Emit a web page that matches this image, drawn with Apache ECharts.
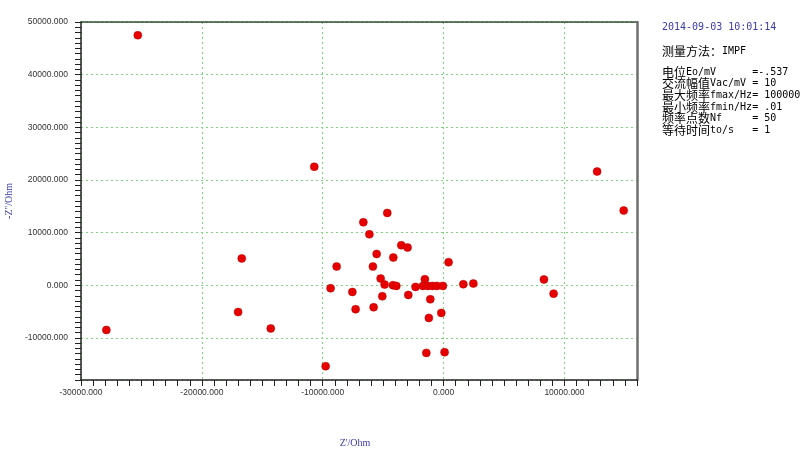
<!DOCTYPE html>
<html>
<head>
<meta charset="utf-8">
<script src="https://cdn.jsdelivr.net/npm/echarts@6/dist/echarts.min.js"></script>
<style>
  html, body { margin: 0; padding: 0; background: #fff; }
  #main { width: 800px; height: 453px; }
</style>
</head>
<body>
<div id="main"></div>
<script>
// Z' / Ohm
const zReal = [-25300, -10700, 12700, 14900, 8300, 9100, -27900, -16700, -17000, -14300,
  -4660, -6640, -6140, -3500, -2980, -5540, -4160, 410, -8850, -5850,
  -5210, -1550, -4880, -4190, -3910, -9350, -2320, -1710, -1300, -930,
  -550, -60, 1630, 2460, -7550, -2920, -5070, -1100, -7280, -5790,
  -190, -1220, -1430, 80, -9760]
// -Z'' / Ohm
const zImag = [47500, 22500, 21600, 14200, 1100, -1600, -8500, 5100, -5100, -8200,
  13730, 11960, 9680, 7590, 7160, 5940, 5260, 4370, 3550, 3550,
  1270, 1140, 130, 0, -130, -570, -320, -130, -130, -130,
  -130, -130, 190, 320, -1270, -1840, -2090, -2660, -4560, -4180,
  -5260, -6210, -12850, -12720, -15380]

const infoTime = '2014-09-03 10:01:14'
const infoMethod = ['测量方法：', 'IMPF']
const infoRows = [
  ['电位', 'Eo/mV      =-.537'],
  ['交流幅值', 'Vac/mV = 10'],
  ['最大频率', 'fmax/Hz= 100000'],
  ['最小频率', 'fmin/Hz= .01'],
  ['频率点数', 'Nf     = 50'],
  ['等待时间', 'to/s   = 1']
]

const points = zReal.map((x, i) => [x, zImag[i]])

const blue = '#3a3aa8'
const gridGreen = '#7cd67c'
const labelStyle = { color: '#333', fontSize: 8.5, fontFamily: 'Liberation Sans' }

const rich = {
  c: { fontFamily: 'Noto Sans CJK SC', fontSize: 12, color: blue },
  a: { fontFamily: 'DejaVu Sans Mono', fontSize: 10, color: blue }
}

const graphic = [
  {
    type: 'text', left: 662, top: 22,
    style: { text: infoTime, fill: blue, font: '10px "DejaVu Sans Mono"' }
  },
  {
    type: 'text', left: 662, top: 45,
    style: { text: '{c|' + infoMethod[0] + '}{a|' + infoMethod[1] + '}', rich: rich }
  }
]
infoRows.forEach((r, i) => {
  graphic.push({
    type: 'text', left: 662, top: 66 + i * 11.7,
    style: { text: '{c|' + r[0] + '}{a|' + r[1] + '}', rich: rich, lineHeight: 12 }
  })
})

const chart = echarts.init(document.getElementById('main'))
chart.setOption({
  backgroundColor: '#fff',
  animation: false,
  grid: { left: 81, right: 163, top: 22, bottom: 73, outerBoundsMode: 'none', containLabel: false },
  graphic: graphic,
  xAxis: [
    {
      type: 'value',
      min: -30000,
      max: 16000,
      splitNumber: 5,
      name: "Z'/Ohm",
      nameLocation: 'middle',
      nameGap: 58,
      nameTextStyle: { color: blue, fontSize: 10, fontFamily: 'Liberation Serif', padding: [0, 8, 0, 0] },
      axisLine: { onZero: false, lineStyle: { color: '#222', width: 1.5 } },
      axisTick: { length: 6, lineStyle: { color: '#222' } },
      minorTick: { show: true, splitNumber: 10, length: 6, lineStyle: { color: '#222' } },
      axisLabel: Object.assign({ margin: 8, showMaxLabel: false,
        formatter: v => v.toFixed(3) }, labelStyle),
      splitLine: { show: true, lineStyle: { color: gridGreen, type: [2, 3], width: 1 } }
    },
    {
      type: 'value',
      position: 'top',
      min: -30000,
      max: 16000,
      axisLine: { show: true, onZero: false, lineStyle: { color: '#2e4a2e', width: 1.5, type: [3, 1] } },
      axisTick: { show: false },
      axisLabel: { show: false },
      splitLine: { show: false }
    }
  ],
  yAxis: [
    {
      type: 'value',
      min: -18000,
      max: 50000,
      splitNumber: 7,
      name: "-Z''/Ohm",
      nameLocation: 'middle',
      nameGap: 66,
      nameTextStyle: { color: blue, fontSize: 10, fontFamily: 'Liberation Serif' },
      axisLine: { show: true, onZero: false, lineStyle: { color: '#222', width: 1.5 } },
      axisTick: { show: true, length: 6, lineStyle: { color: '#222' } },
      minorTick: { show: true, splitNumber: 10, length: 6, lineStyle: { color: '#222' } },
      axisLabel: Object.assign({ margin: 13, showMinLabel: false,
        formatter: v => v.toFixed(3) }, labelStyle),
      splitLine: { show: true, lineStyle: { color: gridGreen, type: [2, 3], width: 1 } }
    },
    {
      type: 'value',
      position: 'right',
      min: -18000,
      max: 50000,
      axisLine: { show: true, onZero: false, lineStyle: { color: '#6e6e6e', width: 2.5 } },
      axisTick: { show: false },
      axisLabel: { show: false },
      splitLine: { show: false }
    }
  ],
  series: [
    {
      type: 'scatter',
      data: points,
      symbolSize: 8,
      itemStyle: { color: '#e60000', borderColor: '#b80000', borderWidth: 0.5, opacity: 1 }
    }
  ]
})
</script>
</body>
</html>
